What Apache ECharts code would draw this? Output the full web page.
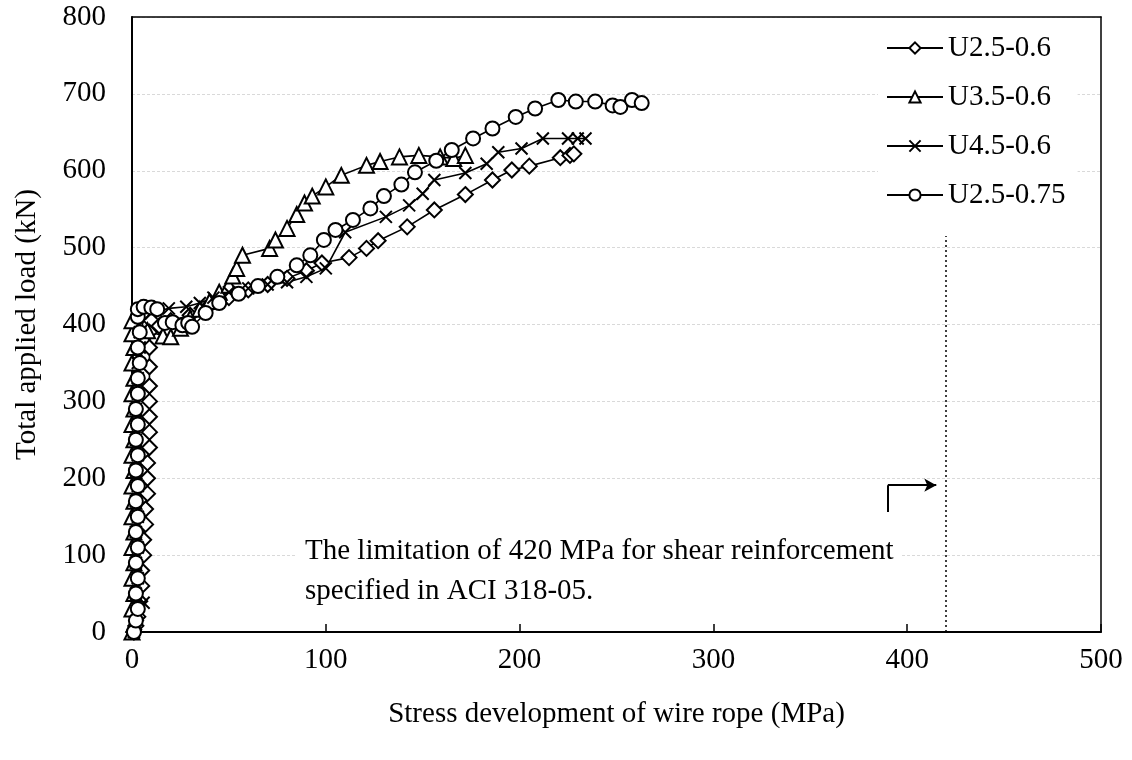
<!DOCTYPE html>
<html>
<head>
<meta charset="utf-8">
<script src="https://cdn.jsdelivr.net/npm/echarts@6/dist/echarts.min.js"></script>
<style>
  html, body { margin: 0; padding: 0; background: #fff; }
  #chart { width: 1132px; height: 760px; }
</style>
</head>
<body>
<div id="chart"></div>
<script>
// stress (MPa), load (kN) pairs
const u25_06 = [
  [1, 0], [2, 8], [3, 20], [4, 40], [5, 60], [5, 80], [6, 100], [6, 120], [7, 140],
  [7, 160], [8, 180], [8, 200], [8, 220], [9, 240], [9, 260], [9, 280], [9, 300],
  [9, 320], [9, 345], [9, 370], [9, 390], [14, 398], [20, 405], [30, 412], [40, 425],
  [50, 435], [60, 445], [70, 452], [80, 460], [90, 470], [98, 480], [112, 487],
  [121, 499], [127, 509], [142, 527], [156, 549], [172, 569], [186, 588], [196, 601],
  [205, 606], [221, 617], [226, 620], [228, 622]
];
const u35_06 = [
  [0, 0], [1, 10], [0, 30], [1, 50], [0, 70], [1, 90], [0, 110], [1, 130], [0, 150],
  [1, 170], [0, 190], [1, 210], [0, 230], [1, 250], [0, 270], [1, 290], [0, 310],
  [1, 330], [0, 350], [1, 370], [0, 388], [0, 405], [8, 392], [16, 385], [20, 384],
  [25, 395], [30, 408], [35, 420], [40, 430], [45, 442], [50, 451], [52, 463],
  [54, 473], [57, 490], [71, 499], [74, 510], [80, 525], [85, 543], [89, 558],
  [93, 567], [100, 579], [108, 594], [121, 607], [128, 612], [138, 618], [148, 620],
  [159, 618], [166, 616], [172, 620]
];
const u45_06 = [
  [1, 0], [2, 10], [3, 22], [6, 38], [2, 50], [3, 70], [2, 90], [3, 110], [2, 130],
  [3, 150], [2, 170], [3, 190], [2, 210], [3, 230], [2, 250], [3, 270], [2, 290],
  [3, 310], [3, 330], [3, 350], [4, 370], [4, 390], [6, 405], [10, 415], [19, 421],
  [28, 423], [35, 428], [42, 435], [50, 442], [60, 447], [70, 452], [80, 455],
  [90, 462], [100, 473], [110, 520], [131, 540], [143, 555], [150, 570], [156, 588],
  [172, 597], [183, 609], [189, 624], [201, 629], [212, 642], [225, 642], [230, 642],
  [234, 642]
];
const u25_075 = [
  [1, 0], [2, 15], [3, 30], [2, 50], [3, 70], [2, 90], [3, 110], [2, 130], [3, 150],
  [2, 170], [3, 190], [2, 210], [3, 230], [2, 250], [3, 270], [2, 290], [3, 310],
  [3, 330], [4, 350], [3, 370], [4, 390], [3, 410], [3, 420], [6, 423], [10, 422],
  [13, 420], [17, 402], [21, 403], [26, 399], [29, 402], [31, 397], [38, 415],
  [45, 428], [55, 440], [65, 450], [75, 462], [85, 477], [92, 490], [99, 510],
  [105, 523], [114, 536], [123, 551], [130, 567], [139, 582], [146, 598], [157, 613],
  [165, 627], [176, 642], [186, 655], [198, 670], [208, 681], [220, 692], [229, 690],
  [239, 690], [248, 685], [252, 683], [258, 692], [263, 688]
];

const limitStress = 420;
const limitTop = 515;
const arrowPath = [[390, 156], [390, 191], [415, 191]];

const xTicks = [0, 100, 200, 300, 400, 500];
const yTicks = [0, 100, 200, 300, 400, 500, 600, 700, 800];

const font = "'Liberation Serif', 'Times New Roman', serif";
const crossPath = "path://M0,0L10,10M10,0L0,10";

const chart = echarts.init(document.getElementById("chart"));

const makeSeries = (name, data, symbol, size) => ({
  name: name,
  type: "line",
  data: data,
  symbol: symbol,
  symbolSize: size,
  showAllSymbol: true,
  lineStyle: { color: "#000", width: 1.6 },
  itemStyle: { color: symbol === crossPath ? "#000" : "#fff", borderColor: "#000", borderWidth: 2 },
  z: 3,
});

const series = [
  makeSeries("U2.5-0.6", u25_06, "diamond", 15),
  makeSeries("U3.5-0.6", u35_06, "triangle", 15),
  makeSeries("U4.5-0.6", u45_06, crossPath, 12),
  makeSeries("U2.5-0.75", u25_075, "circle", 14),
];

series[0].markLine = {
  silent: true,
  animation: false,
  label: { show: false },
  data: [
    [
      { coord: [limitStress, 0], symbol: "none", lineStyle: { type: [2, 3], width: 1.5, color: "#000" } },
      { coord: [limitStress, limitTop], symbol: "none" },
    ],
    [
      { coord: arrowPath[0], symbol: "none", lineStyle: { type: "solid", width: 2, color: "#000" } },
      { coord: arrowPath[1], symbol: "none" },
    ],
    [
      { coord: arrowPath[1], symbol: "none", lineStyle: { type: "solid", width: 2, color: "#000" } },
      { coord: arrowPath[2], symbol: "arrow", symbolSize: [10, 12] },
    ],
  ],
};

const frameAxis = {
  type: "value",
  min: 0,
  axisLine: { show: true, onZero: false, lineStyle: { color: "#000", width: 1.5 } },
  axisTick: { show: false },
  axisLabel: { show: false },
  splitLine: { show: false },
};

const options = {
  backgroundColor: "#fff",
  animation: false,
  textStyle: { fontFamily: font, color: "#000" },
  grid: {
    left: 132,
    right: 31,
    top: 17,
    bottom: 128,
  },
  legend: {
    orient: "vertical",
    left: 878,
    top: 25,
    padding: [8, 12, 10, 8],
    backgroundColor: "#fff",
    itemWidth: 56,
    itemHeight: 14,
    itemGap: 19,
    textStyle: { fontFamily: font, fontSize: 29, color: "#000", lineHeight: 30 },
    data: series.map((s) => s.name),
  },
  xAxis: [
    {
      type: "value",
      min: xTicks[0],
      max: xTicks[xTicks.length - 1],
      interval: 100,
      name: "Stress development of wire rope (MPa)",
      nameLocation: "middle",
      nameGap: 68,
      nameTextStyle: { fontFamily: font, fontSize: 29, color: "#000" },
      axisLine: { lineStyle: { color: "#000", width: 2 } },
      axisTick: { inside: true, length: 8, lineStyle: { color: "#000", width: 1.5 } },
      axisLabel: { fontFamily: font, fontSize: 29, color: "#000", margin: 14 },
      splitLine: { show: false },
    },
    Object.assign({}, frameAxis, { position: "top", max: xTicks[xTicks.length - 1] }),
  ],
  yAxis: [
    {
      type: "value",
      min: yTicks[0],
      max: yTicks[yTicks.length - 1],
      interval: 100,
      name: "Total applied load (kN)",
      nameLocation: "middle",
      nameGap: 90,
      nameTextStyle: { fontFamily: font, fontSize: 29, color: "#000" },
      axisLine: { lineStyle: { color: "#000", width: 2 } },
      axisTick: { show: false },
      axisLabel: { fontFamily: font, fontSize: 29, color: "#000", margin: 26 },
      splitLine: { lineStyle: { color: "#d9d9d9", type: [3, 2], width: 1.2 } },
    },
    Object.assign({}, frameAxis, { position: "right", max: yTicks[yTicks.length - 1] }),
  ],
  graphic: [
    {
      type: "text",
      left: 297,
      top: 531,
      z: 10,
      style: {
        text: "The limitation of 420 MPa for shear reinforcement\nspecified in ACI 318-05.",
        font: "29px " + font,
        lineHeight: 40,
        fill: "#000",
        backgroundColor: "#fff",
        padding: [0, 8],
      },
    },
  ],
  series: series,
};

chart.setOption(options);
</script>
</body>
</html>
